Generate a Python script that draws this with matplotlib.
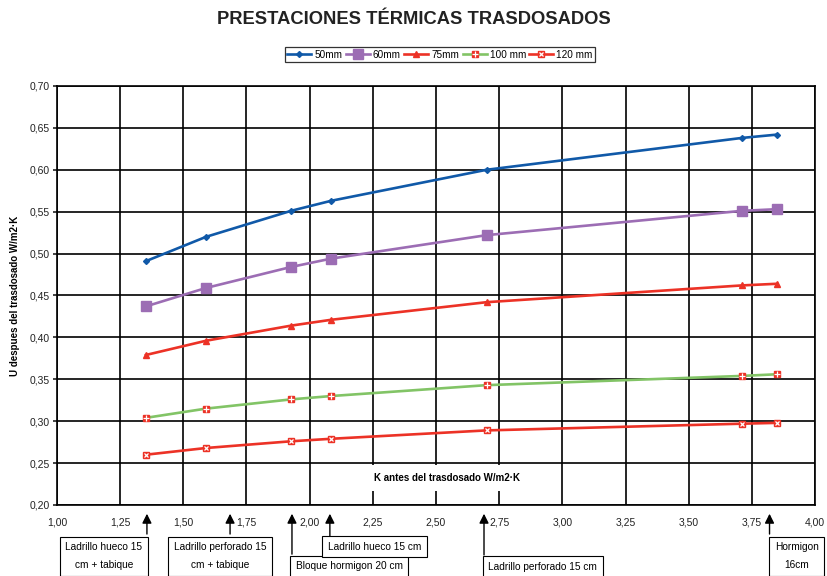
import numpy as np
import matplotlib
matplotlib.use("Agg")
import matplotlib.pyplot as plt
from matplotlib.ticker import FuncFormatter, MultipleLocator
from matplotlib.legend_handler import HandlerTuple
import matplotlib.transforms as mtransforms

plt.rcParams['font.family'] = ['Liberation Sans', 'DejaVu Sans']

# K antes del trasdosado (x) and U after for each insulation thickness
k_antes = [1.352, 1.59, 1.926, 2.085, 2.70, 3.71, 3.85]
u_50 = [0.491, 0.520, 0.551, 0.563, 0.600, 0.638, 0.642]
u_60 = [0.437, 0.459, 0.484, 0.494, 0.522, 0.551, 0.553]
u_75 = [0.379, 0.396, 0.414, 0.421, 0.442, 0.462, 0.464]
u_100 = [0.304, 0.315, 0.326, 0.330, 0.343, 0.354, 0.356]
u_120 = [0.260, 0.268, 0.276, 0.279, 0.289, 0.297, 0.298]

series_labels = ['50mm', '60mm', '75mm', '100 mm', '120 mm']

# wall types pointed at below the axis
wall_labels = ['Ladrillo hueco 15\ncm + tabique', 'Ladrillo perforado 15\ncm + tabique',
               'Bloque hormigon 20 cm', 'Ladrillo hueco 15 cm',
               'Ladrillo perforado 15 cm', 'Hormigon\n16cm']
wall_arrow_x = [1.356, 1.685, 1.93, 2.08, 2.69, 3.82]
wall_box_x = [1.186, 1.645, 2.156, 2.256, 2.923, 3.928]
wall_box_y = [-0.122, -0.122, -0.146, -0.100, -0.148, -0.122]
wall_arrow_base = [-0.076, -0.076, -0.124, -0.081, -0.126, -0.076]

blue = '#1059A8'
purple = '#9C6DB4'
red = '#EC3226'
green = '#82C466'

fig = plt.figure(figsize=(8.27, 5.76), dpi=100)
ax = fig.add_axes([0.0689, 0.1233, 0.9166, 0.7274])

h50, = ax.plot(k_antes, u_50, color=blue, lw=1.9, marker='D', ms=3)
h60, = ax.plot(k_antes, u_60, color=purple, lw=1.9, marker='s', ms=7.5)
h75, = ax.plot(k_antes, u_75, color=red, lw=1.9, marker='^', ms=4.5)
h100, = ax.plot(k_antes, u_100, color=green, lw=1.9, marker='s', ms=5,
                mfc=red, mec=red)
h100b, = ax.plot(k_antes, u_100, ls='none', marker='+', ms=4, mew=0.9, color='white')
h120, = ax.plot(k_antes, u_120, color=red, lw=1.9, marker='s', ms=5,
                mfc=red, mec=red)
h120b, = ax.plot(k_antes, u_120, ls='none', marker='x', ms=3, mew=0.9, color='white')

ax.set_xlim(1.0, 4.0)
ax.set_ylim(0.20, 0.70)
ax.xaxis.set_major_locator(MultipleLocator(0.25))
ax.yaxis.set_major_locator(MultipleLocator(0.05))
fmt = FuncFormatter(lambda v, p: '{:.2f}'.format(v).replace('.', ','))
ax.xaxis.set_major_formatter(fmt)
ax.yaxis.set_major_formatter(fmt)
ax.grid(True, color='black', lw=1.2)
ax.set_axisbelow(True)
for s in ax.spines.values():
    s.set_linewidth(1.2)
ax.tick_params(axis='x', length=0, pad=9, labelsize=7.5, colors='#222222')
ax.tick_params(axis='y', length=3, width=1.2, pad=2, labelsize=7.5, colors='#222222')

ax.set_ylabel('U despues del trasdosado W/m2·K', fontsize=7, fontweight='bold', labelpad=7)
ax.text(2.543, 0.0644, 'K antes del trasdosado W/m2·K', fontsize=7, fontweight='bold',
        ha='center', va='center', transform=mtransforms.blended_transform_factory(ax.transData, ax.transAxes),
        bbox=dict(facecolor='white', edgecolor='none', pad=6))

fig.text(0.5, 0.966, 'PRESTACIONES TÉRMICAS TRASDOSADOS', ha='center', va='center',
         fontsize=13.2, fontweight='bold', color='#222222')

leg = fig.legend([h50, h60, h75, (h100, h100b), (h120, h120b)], series_labels,
                 handler_map={tuple: HandlerTuple(ndivide=1)},
                 loc='center', bbox_to_anchor=(0.532, 0.905), ncol=5, fontsize=7.2,
                 frameon=True, fancybox=False, edgecolor='black', borderpad=0.25,
                 handlelength=2.4, handletextpad=0.3, columnspacing=0.35,
                 borderaxespad=0.2)
leg.get_frame().set_linewidth(0.9)

trans = mtransforms.blended_transform_factory(ax.transData, ax.transAxes)
for lab, xa, xb, yb, ybase in zip(wall_labels, wall_arrow_x, wall_box_x, wall_box_y, wall_arrow_base):
    ax.annotate('', xy=(xa, -0.0143), xytext=(xa, ybase), xycoords=trans, textcoords=trans,
                arrowprops=dict(arrowstyle='-|>', color='black', lw=1.0, mutation_scale=14),
                annotation_clip=False)
    ax.text(xb, yb, lab, transform=trans, ha='center', va='center', fontsize=7.3,
            multialignment='center', linespacing=2.0, clip_on=False,
            bbox=dict(boxstyle='square,pad=0.55', facecolor='white', edgecolor='black', lw=0.8))

fig.savefig('out.png', dpi=100)
